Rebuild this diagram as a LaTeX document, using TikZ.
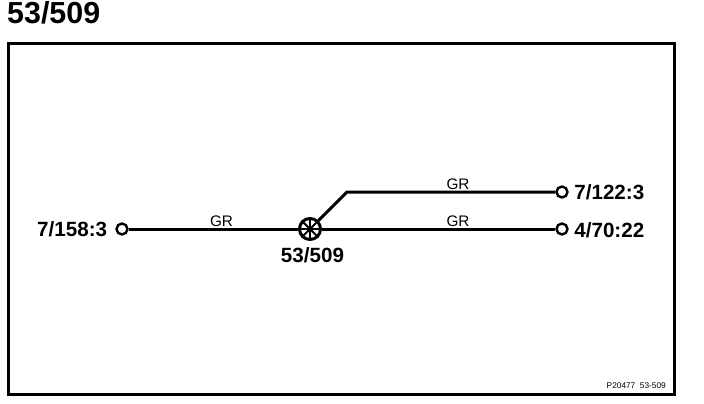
\documentclass[tikz,border=0pt]{standalone}
\usepackage{fontspec}
\setmainfont{Liberation Sans}
\usetikzlibrary{positioning}
\tikzset{
  terminal/.style={
    draw,
    circle,
    line width=2.4pt,
    fill=white,
    inner sep=0pt,
    minimum size=11pt
  },
  hub/.style={
    draw,
    circle,
    line width=3pt,
    fill=white,
    inner sep=0pt,
    minimum size=21pt
  },
  wire/.style={
    line width=3pt
  },
  place/.style={
    inner sep=0pt,
    font=\fontsize{20.6}{24}\selectfont\bfseries
  },
  cable/.style={
    inner sep=0pt,
    font=\fontsize{15.3}{18}\selectfont
  }
}

\begin{document}
\begin{tikzpicture}[x=1pt, y=-1pt]
    \useasboundingbox (0,0) rectangle (704,404);
    \node[inner sep=0pt, anchor=base west, font=\fontsize{30.4}{36}\selectfont\bfseries] (title) at (7,24) {53/509};
    \node[draw, line width=3pt, outer sep=0pt, minimum width=666.5pt, minimum height=350pt, inner sep=0pt, anchor=north west] (frame) at (8,44) {};

    \coordinate (bend) at (347,192);
    \node[terminal] (west) at (122,229) {};
    \node[terminal] (north) at (562,192) {};
    \node[terminal] (east) at (562,229) {};
    \node[hub] (junction) at (310,229) {};

    \draw[wire] (west) -- (junction);
    \draw[wire] (junction) -- (east);
    \draw[wire, line join=miter] (junction) -- (bend) -- (north);
    \foreach \ang in {0,45,...,315}
        \draw[line width=2pt] (junction.center) -- (junction.\ang);

    \node[place, left=8pt of west] (westlabel) {7/158:3};
    \node[place, right=5.5pt of north] (northlabel) {7/122:3};
    \node[place, right=5.5pt of east, yshift=-1pt] (eastlabel) {4/70:22};
    \node[place, below=6pt of junction, xshift=2.5pt] (hublabel) {53/509};

    \node[cable, anchor=base] (westcable) at (221.5,226) {GR};
    \node[cable, anchor=base] (northcable) at (458,189) {GR};
    \node[cable, anchor=base] (eastcable) at (458,226) {GR};

    \node[inner sep=0pt, anchor=base east, font=\fontsize{8.3}{10}\selectfont] (code) at (666,388) {P20477\ \ 53-509};
\end{tikzpicture}
\end{document}
